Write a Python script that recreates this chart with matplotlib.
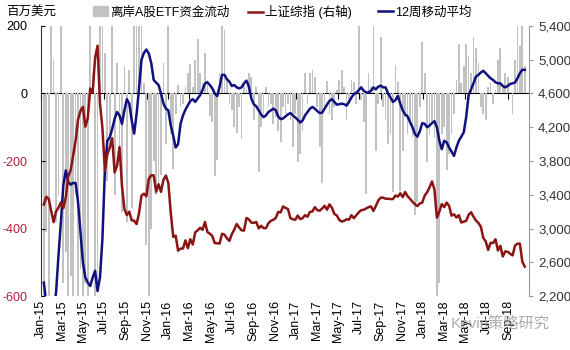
import matplotlib
matplotlib.use("Agg")
import matplotlib.pyplot as plt
import matplotlib.dates as mdates
import matplotlib.ticker as mticker
from matplotlib.patches import Patch
from matplotlib.lines import Line2D
import pandas as pd

plt.rcParams["font.family"] = ["Liberation Sans", "Noto Sans CJK SC"]

# 离岸A股ETF资金流动 (百万美元), weekly
flow_2015 = [-620, -410, -620, 220, 100, -380, -300, 220, -560, -470,
             -620, -540, -620, -300, -620, -520, -620, -560, -620, 220,
             60, -620, -580, 220, 220, 120, -260, -150, 220, -300,
             90, -200, -350, 80, -380, 70, -340, 220, 220, 220,
             220, 30, -450, -620, -400, -200, -300, -280, -240, 90, -150]
flow_2016 = [220, -120, -224, -60, 24, -40, -30, 20, 60, 87,
             20, 100, 161, 60, 30, 121, 40, -66, -86, -243,
             -196, 60, 220, 187, 40, -30, -50, -100, -116, -40,
             -136, 25, 20, 62, 50, -80, 20, -234, -100, -60,
             20, -40, -30, -90, -70, -110, -145, -40, -60, -30,
             -80, -160, -60]
flow_2017 = [-204, -180, -110, 62, -30, 60, 70, 50, -40, -160,
             -264, -50, 38, -60, -80, -40, 10, 40, 68, 20,
             -80, -30, 40, 35, -30, 220, -20, -86, -298, 60,
             20, 220, -169, -30, 166, -40, -80, -150, -120, -293,
             85, 35, -290, -170, -70, -120, -80, -130, -361, -320,
             -40, 152]
flow_2018 = [62, -204, -120, -90, -130, -620, -560, -120, -100, -228,
             -180, -120, -60, 40, 146, 30, 80, 146, 110, 60,
             166, 136, 90, -40, -60, -80, 20, 30, -30, 10,
             100, 136, 20, 60, 50, 5, -61, 98, 200, 140,
             200, 80]

# 12周移动平均
ma_2015 = [-560, -620, -700, -700, -640, -590, -480, -380, -270, -228,
           -262, -270, -265, -265, -320, -410, -500, -545, -560, -570,
           -545, -525, -585, -545, -430, -230, -140, -130, -105, -75,
           -55, -65, -90, -50, -17, -30, -80, -119, -60, 15,
           100, 120, 130, 118, 90, 40, 32, 25, 0, -30, -45]
ma_2016 = [-50, -95, -125, -160, -150, -90, -65, -48, -35, -22,
           -17, -25, -15, -5, 10, 30, 33, 25, 15, 0,
           -8, 20, 55, 55, 42, 35, 22, 25, 18, 15,
           18, 30, 38, 20, -15, -32, -38, -50, -62, -70,
           -65, -55, -50, -45, -50, -68, -76, -74, -68, -62,
           -58, -65, -71]
ma_2017 = [-78, -86, -80, -65, -55, -45, -40, -45, -52, -58,
           -57, -45, -33, -22, -17, -25, -33, -32, -30, -32,
           -36, -25, -12, -2, 2, 10, 18, 8, 3, 3,
           8, 18, 12, 20, 23, 18, 18, 0, -12, -25,
           -20, -7, -30, -50, -62, -68, -85, -100, -120, -128,
           -112, -88]
ma_2018 = [-90, -100, -95, -88, -82, -100, -140, -165, -140, -145,
           -160, -172, -185, -160, -140, -128, -115, -70, -5, 12,
           30, 50, 55, 62, 67, 60, 52, 45, 40, 33,
           30, 30, 22, 18, 22, 28, 30, 32, 45, 60,
           70, 70]

# 上证综指 (右轴), weekly close
sh_2015 = [3285, 3376, 3351, 3210, 3076, 3203, 3247, 3310, 3241, 3372,
           3617, 3691, 3863, 4035, 4287, 4394, 4441, 4206, 4308, 4658,
           4611, 5023, 5166, 4478, 4193, 3687, 3878, 3958, 4070, 3664,
           3744, 3965, 3508, 3232, 3160, 3200, 3097, 3093, 3053, 3183,
           3391, 3412, 3383, 3590, 3632, 3630, 3436, 3525, 3435, 3578, 3628]
sh_2016 = [3539, 3186, 2901, 2916, 2738, 2763, 2763, 2860, 2767, 2874,
           2810, 2955, 2979, 3009, 2985, 3078, 2959, 2938, 2913, 2828,
           2826, 2822, 2938, 2927, 2885, 2854, 2932, 2988, 3054, 3013,
           2979, 2976, 3125, 3108, 3070, 3067, 3078, 3002, 3033, 3005,
           3005, 3063, 3091, 3104, 3125, 3197, 3192, 3262, 3244, 3232,
           3123, 3110, 3104]
sh_2017 = [3154, 3112, 3123, 3159, 3140, 3197, 3202, 3253, 3218, 3212,
           3237, 3269, 3223, 3287, 3246, 3173, 3155, 3103, 3083, 3091,
           3110, 3105, 3158, 3123, 3158, 3192, 3218, 3222, 3238, 3253,
           3262, 3209, 3268, 3332, 3367, 3365, 3353, 3353, 3349, 3349,
           3391, 3378, 3417, 3372, 3433, 3382, 3353, 3317, 3289, 3266,
           3297, 3307]
sh_2018 = [3391, 3429, 3488, 3558, 3462, 3129, 3199, 3290, 3254, 3307,
           3269, 3153, 3169, 3131, 3159, 3071, 3082, 3091, 3163, 3193,
           3141, 3095, 3067, 3022, 2890, 2847, 2747, 2831, 2829, 2873,
           2740, 2795, 2669, 2729, 2725, 2702, 2682, 2797, 2821, 2821,
           2606, 2550]

flow = flow_2015 + flow_2016 + flow_2017 + flow_2018
ma12 = ma_2015 + ma_2016 + ma_2017 + ma_2018
shci = sh_2015 + sh_2016 + sh_2017 + sh_2018
weeks = pd.date_range("2015-01-09", periods=len(flow), freq="W-FRI")

left_ticks = [-600, -400, -200, 0, 200]
right_ticks = [2200, 2600, 3000, 3400, 3800, 4200, 4600, 5000, 5400]
legend_labels = ["离岸A股ETF资金流动", "上证综指 (右轴)", "12周移动平均"]

c_bar = "#c2c2c2"
c_red = "#8b1414"
c_blue = "#10107e"

fig = plt.figure(figsize=(5.7, 3.5), dpi=100)
ax = fig.add_axes([0.072, 0.154, 0.856, 0.772])
ax.bar(weeks, flow, width=5, color=c_bar, zorder=1)
ax.plot(weeks, ma12, color=c_blue, lw=1.8, zorder=3)
ax.set_ylim(-600, 200)
ax.set_xlim(pd.Timestamp("2015-01-01"), pd.Timestamp("2018-10-31"))
ax.set_yticks(left_ticks)
ax.set_yticklabels([str(v) for v in left_ticks])
for lbl, v in zip(ax.get_yticklabels(), left_ticks):
    lbl.set_color("#b0203a" if v < 0 else "black")
ax.tick_params(axis="y", direction="in", length=3, labelsize=9, pad=10)

months = mdates.MonthLocator(bymonth=[1, 3, 5, 7, 9, 11])
ax.xaxis.set_major_locator(months)
ax.xaxis.set_major_formatter(mdates.DateFormatter("%b-%y"))
ax.tick_params(axis="x", length=0, labelsize=9, rotation=90, pad=3)
for s in ["top", "bottom", "right"]:
    ax.spines[s].set_visible(False)
ax.spines["left"].set_color("#333333")

# zero line carrying the month ticks
sec = ax.secondary_xaxis(0.75)
sec.xaxis.set_major_locator(mdates.MonthLocator(bymonth=[1, 3, 5, 7, 9, 11]))
sec.xaxis.set_major_formatter(mticker.NullFormatter())
sec.tick_params(axis="x", direction="in", length=4, width=0.8)
sec.spines["bottom"].set_linewidth(1.0)

ax2 = ax.twinx()
ax2.plot(weeks, shci, color=c_red, lw=1.8, zorder=2)
ax2.set_ylim(2200, 5400)
ax2.set_yticks(right_ticks)
ax2.yaxis.set_major_formatter(mticker.FuncFormatter(lambda v, p: f"{v:,.0f}"))
ax2.tick_params(axis="y", direction="out", length=3, labelsize=9.5, colors="#999999",
                labelcolor="#333333")
for s in ["top", "bottom", "left"]:
    ax2.spines[s].set_visible(False)
ax2.spines["right"].set_color("#999999")

# legend: one entry each, placed like the original
handles = [Patch(color=c_bar),
           Line2D([], [], color=c_red, lw=1.8),
           Line2D([], [], color=c_blue, lw=1.8)]
for h, lab, xpos in zip(handles, legend_labels, [0.163, 0.435, 0.663]):
    fig.legend([h], [lab], loc="center left", bbox_to_anchor=(xpos, 0.965),
               frameon=False, fontsize=9, handlelength=1.2, handleheight=0.8,
               handletextpad=0.2, borderpad=0, borderaxespad=0)
fig.text(0.01, 0.965, "百万美元", fontsize=9, va="center")
fig.text(0.79, 0.075, "Kevin策略研究", fontsize=11, color="#999999", alpha=0.8, va="center")

fig.savefig("out.png", dpi=100)
